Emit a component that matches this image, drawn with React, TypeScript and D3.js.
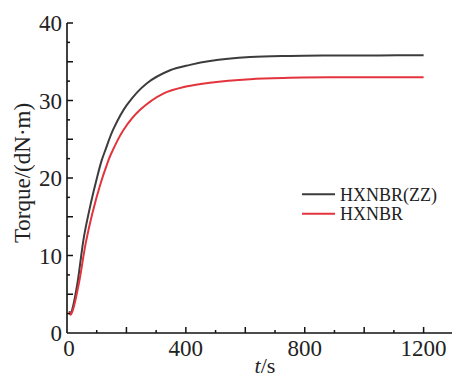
import React from "react";
import * as d3 from "d3";

const seriesNames = ["HXNBR(ZZ)", "HXNBR"];
const seriesColors = ["#3c3c3c", "#e3343d"];

const blackT = [8, 12, 20, 35, 57, 80, 102, 117, 130, 156, 201, 268, 347, 414, 481, 616, 750, 885, 1050, 1200];
const blackV = [2.8, 2.45, 3.4, 6.4, 12.4, 16.7, 20.2, 22.3, 23.7, 26.3, 29.4, 32.2, 33.9, 34.6, 35.1, 35.6, 35.75, 35.8, 35.82, 35.85];

const redT = [8, 12, 20, 40, 63, 85, 113, 134, 147, 190, 246, 324, 400, 481, 616, 750, 885, 1050, 1200];
const redV = [2.7, 2.35, 3.0, 6.4, 11.6, 15.4, 19.3, 21.7, 23.0, 26.2, 28.8, 30.9, 31.8, 32.3, 32.75, 32.92, 33.0, 33.0, 33.0];

const xLabelTicks = [0, 400, 800, 1200];
const yLabelTicks = [0, 10, 20, 30, 40];

export default function App() {
  const W = 453, H = 378;
  const x = d3.scaleLinear().domain([0, 1200]).range([67, 423.6]);
  const y = d3.scaleLinear().domain([0, 40]).range([333, 23]);
  const xEnd = 452;

  const line = d3
    .line<[number, number]>()
    .x((d) => x(d[0]))
    .y((d) => y(d[1]))
    .curve(d3.curveCatmullRom.alpha(0.5));

  const blackData: [number, number][] = blackT.map((t, i) => [t, blackV[i]]);
  const redData: [number, number][] = redT.map((t, i) => [t, redV[i]]);

  const xMinor = d3.range(100, 1300, 100);
  const yMinor = d3.range(2.5, 40.01, 2.5);

  const font = "'Liberation Serif', 'Times New Roman', serif";

  return (
    <svg width={W} height={H} style={{ position: "absolute", left: 0, top: 0, background: "#fff" }}>
      <rect width={W} height={H} fill="#fff" />
      {/* curves */}
      <path d={line(blackData) || ""} fill="none" stroke={seriesColors[0]} strokeWidth={2} />
      <path d={line(redData) || ""} fill="none" stroke={seriesColors[1]} strokeWidth={2} />

      {/* axes */}
      <line x1={67} x2={67} y1={y(40)} y2={333} stroke="#111" strokeWidth={1.6} />
      <line x1={67} x2={xEnd} y1={333} y2={333} stroke="#111" strokeWidth={1.6} />
      {xMinor.map((t) => (
        <line key={"xt" + t} x1={x(t)} x2={x(t)} y1={333} y2={333 - (t % 200 === 0 ? 6 : 3)} stroke="#111" strokeWidth={1.5} />
      ))}
      {yMinor.map((v) => (
        <line key={"yt" + v} x1={67} x2={67 + (v % 5 === 0 ? 6 : 3)} y1={y(v)} y2={y(v)} stroke="#111" strokeWidth={1.5} />
      ))}
      {xLabelTicks.map((t) => (
        <text key={"xl" + t} x={x(t) + (t === 0 ? 2 : 0)} y={356} textAnchor="middle" fontFamily={font} fontSize={23} fill="#222">
          {t}
        </text>
      ))}
      {yLabelTicks.map((v) => (
        <text key={"yl" + v} x={62} y={y(v) + 8} textAnchor="end" fontFamily={font} fontSize={23} fill="#222">
          {v}
        </text>
      ))}
      <text x={265} y={373} textAnchor="middle" fontFamily={font} fontSize={22} fill="#222">
        <tspan fontStyle="italic">t</tspan>/s
      </text>
      <text transform="translate(30,173) rotate(-90)" textAnchor="middle" fontFamily={font} fontSize={23} fill="#222">
        Torque/(dN·m)
      </text>

      {/* legend */}
      {seriesNames.map((n, i) => (
        <g key={n}>
          <line x1={302} x2={335} y1={194.3 + i * 19.4} y2={194.3 + i * 19.4} stroke={seriesColors[i]} strokeWidth={2} />
          <text x={340} y={200.7 + i * 19.4} fontFamily={font} fontSize={18} fill="#222">
            {n}
          </text>
        </g>
      ))}
    </svg>
  );
}
